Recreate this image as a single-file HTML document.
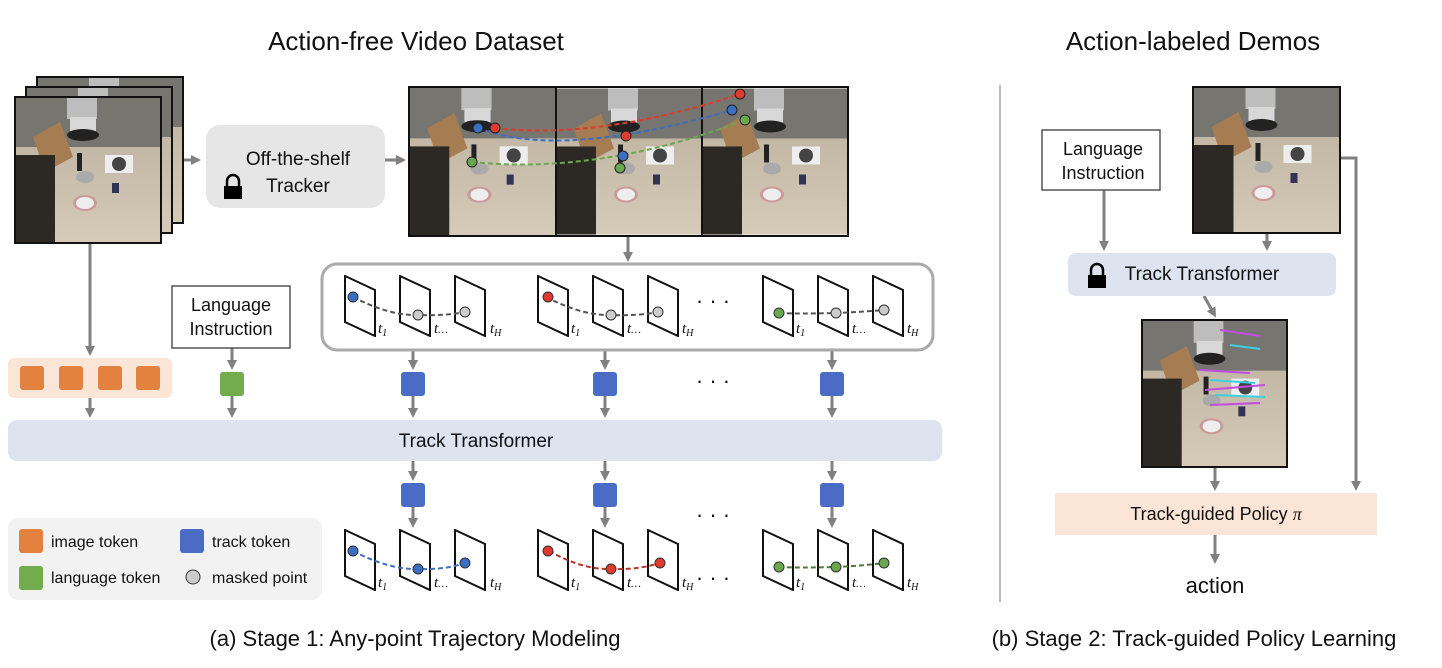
<!DOCTYPE html>
<html><head><meta charset="utf-8"><style>
body{margin:0;background:#fff}
svg{display:block}
text{font-family:"Liberation Sans",sans-serif;fill:#111}
.ti{font-family:"Liberation Serif",serif;font-style:italic;font-size:15px}
</style></head><body>
<svg width="1442" height="668" viewBox="0 0 1442 668" xmlns="http://www.w3.org/2000/svg">
<defs>
<linearGradient id="fl" x1="0" y1="0" x2="0" y2="1"><stop offset="0" stop-color="#b9ad9a"/><stop offset="1" stop-color="#d6cbb9"/></linearGradient>
<symbol id="scene" viewBox="0 0 146 146">
<rect width="146" height="146" fill="url(#fl)"/>
<rect width="146" height="50" fill="#77756f"/>
<path d="M18 40 L45 25 L58 60 L30 75Z" fill="#a67c52"/>
<rect x="0" y="58" width="40" height="88" fill="#2c2925"/>
<rect x="52" y="0" width="30" height="22" fill="#bdbdbd"/>
<rect x="55" y="20" width="26" height="14" fill="#d8d8d8"/>
<ellipse cx="68" cy="38" rx="16" ry="6" fill="#222"/>
<rect x="90" y="58" width="28" height="18" fill="#eee"/>
<circle cx="104" cy="67" r="7" fill="#444"/>
<ellipse cx="70" cy="80" rx="9" ry="6" fill="#aaa"/>
<rect x="62" y="56" width="5" height="18" fill="#222"/>
<ellipse cx="70" cy="106" rx="12" ry="8" fill="#c99" /><ellipse cx="70" cy="106" rx="9" ry="6" fill="#eee"/>
<rect x="97" y="86" width="7" height="10" fill="#335"/>
</symbol>
<symbol id="para" viewBox="0 0 32 62"><path d="M1 1 L31 15 L31 61 L1 47Z" fill="#fff" stroke="#111" stroke-width="2"/></symbol>
<marker id="ah" markerWidth="10" markerHeight="10" refX="6" refY="5" orient="auto" markerUnits="userSpaceOnUse"><path d="M0 0 L10 5 L0 10Z" fill="#808080"/></marker>
</defs>
<g stroke="#808080" stroke-width="3" fill="none" marker-end="url(#ah)">
<line x1="162" y1="160" x2="197" y2="160"/>
<line x1="385" y1="160" x2="402" y2="160"/>
<line x1="628" y1="236" x2="628" y2="258"/>
<line x1="90" y1="243" x2="90" y2="352"/>
<line x1="232" y1="348" x2="232" y2="366"/>
<line x1="413" y1="350" x2="413" y2="366"/>
<line x1="605" y1="350" x2="605" y2="366"/>
<line x1="832" y1="350" x2="832" y2="366"/>
<line x1="90" y1="398" x2="90" y2="414"/>
<line x1="232" y1="396" x2="232" y2="414"/>
<line x1="413" y1="396" x2="413" y2="414"/>
<line x1="605" y1="396" x2="605" y2="414"/>
<line x1="832" y1="396" x2="832" y2="414"/>
<line x1="413" y1="461" x2="413" y2="477"/>
<line x1="605" y1="461" x2="605" y2="477"/>
<line x1="832" y1="461" x2="832" y2="477"/>
<line x1="413" y1="507" x2="413" y2="524"/>
<line x1="605" y1="507" x2="605" y2="524"/>
<line x1="832" y1="507" x2="832" y2="524"/>
<line x1="1104" y1="190" x2="1104" y2="247"/>
<line x1="1267" y1="233" x2="1267" y2="247"/>
<line x1="1204" y1="296" x2="1214" y2="314"/>
<line x1="1215" y1="467" x2="1215" y2="487"/>
<polyline points="1340,158 1356,158 1356,487"/>
<line x1="1215" y1="535" x2="1215" y2="560"/>
</g>
<text x="416" y="50" font-size="26" text-anchor="middle">Action-free Video Dataset</text>
<text x="1193" y="50" font-size="26" text-anchor="middle">Action-labeled Demos</text>
<rect x="37" y="77" width="146" height="146" fill="#77756f" stroke="#111" stroke-width="2"/>
<use href="#scene" x="37" y="77" width="146" height="146"/>
<rect x="37" y="77" width="146" height="146" fill="none" stroke="#111" stroke-width="2"/>
<use href="#scene" x="26" y="87" width="146" height="146"/>
<rect x="26" y="87" width="146" height="146" fill="none" stroke="#111" stroke-width="2"/>
<use href="#scene" x="15" y="97" width="146" height="146"/>
<rect x="15" y="97" width="146" height="146" fill="none" stroke="#111" stroke-width="2"/>
<rect x="206" y="125" width="179" height="83" rx="14" fill="#e6e6e6"/>
<text x="298" y="165" font-size="19" text-anchor="middle">Off-the-shelf</text>
<text x="298" y="192" font-size="19" text-anchor="middle">Tracker</text>
<g><path d="M227 186 v-5 a6 6 0 0 1 12 0 v5" fill="none" stroke="#000" stroke-width="2.5"/><rect x="224" y="186" width="18" height="13" fill="#000"/></g>
<use href="#scene" x="409" y="87" width="147" height="149"/>
<use href="#scene" x="556" y="87" width="146" height="149"/>
<use href="#scene" x="702" y="87" width="146" height="149"/>
<rect x="409" y="87" width="439" height="149" fill="none" stroke="#111" stroke-width="2"/>
<line x1="556" y1="87" x2="556" y2="236" stroke="#111" stroke-width="2"/>
<line x1="702" y1="87" x2="702" y2="236" stroke="#111" stroke-width="2"/>
<g fill="none" stroke-width="2" stroke-dasharray="5,3">
<path d="M495 128 Q600 140 740 94" stroke="#e03a2e"/>
<path d="M478 128 Q560 160 732 110" stroke="#3a6fc4"/>
<path d="M472 162 Q600 175 745 120" stroke="#6aa84f"/>
</g>
<g stroke="#222" stroke-width="1">
<circle cx="495" cy="128" r="5" fill="#e03a2e"/><circle cx="626" cy="136" r="5" fill="#e03a2e"/><circle cx="740" cy="94" r="5" fill="#e03a2e"/>
<circle cx="478" cy="128" r="5" fill="#3a6fc4"/><circle cx="623" cy="156" r="5" fill="#3a6fc4"/><circle cx="732" cy="110" r="5" fill="#3a6fc4"/>
<circle cx="472" cy="162" r="5" fill="#6aa84f"/><circle cx="620" cy="168" r="5" fill="#6aa84f"/><circle cx="745" cy="120" r="5" fill="#6aa84f"/>
</g>
<rect x="322" y="264" width="611" height="86" rx="15" fill="#fff" stroke="#aaa" stroke-width="3"/>
<g>
<use href="#para" x="344" y="275" width="32" height="62"/><use href="#para" x="399" y="275" width="32" height="62"/><use href="#para" x="454" y="275" width="32" height="62"/>
<use href="#para" x="537" y="275" width="32" height="62"/><use href="#para" x="592" y="275" width="32" height="62"/><use href="#para" x="647" y="275" width="32" height="62"/>
<use href="#para" x="762" y="275" width="32" height="62"/><use href="#para" x="817" y="275" width="32" height="62"/><use href="#para" x="872" y="275" width="32" height="62"/>
<use href="#para" x="344" y="529" width="32" height="62"/><use href="#para" x="399" y="529" width="32" height="62"/><use href="#para" x="454" y="529" width="32" height="62"/>
<use href="#para" x="537" y="529" width="32" height="62"/><use href="#para" x="592" y="529" width="32" height="62"/><use href="#para" x="647" y="529" width="32" height="62"/>
<use href="#para" x="762" y="529" width="32" height="62"/><use href="#para" x="817" y="529" width="32" height="62"/><use href="#para" x="872" y="529" width="32" height="62"/>
</g>
<g fill="none" stroke-width="2" stroke-dasharray="5,3">
<path d="M353 297 Q390 316 418 315 Q445 316 465 312" stroke="#555"/>
<path d="M546 297 Q583 316 611 315 Q638 316 658 312" stroke="#555"/>
<path d="M779 313 Q800 314 836 313 Q860 312 884 310" stroke="#555"/>
<path d="M353 551 Q390 570 418 569 Q445 570 465 563" stroke="#3a6fc4"/>
<path d="M549 551 Q583 570 611 569 Q638 570 660 563" stroke="#c03020"/>
<path d="M779 567 Q800 568 836 567 Q860 566 884 563" stroke="#4e7a34"/>
</g>
<g stroke="#333" stroke-width="1">
<circle cx="353" cy="297" r="5" fill="#3a6fc4"/><circle cx="418" cy="315" r="5" fill="#ccc"/><circle cx="465" cy="312" r="5" fill="#ccc"/>
<circle cx="548" cy="297" r="5" fill="#e03a2e"/><circle cx="611" cy="315" r="5" fill="#ccc"/><circle cx="658" cy="312" r="5" fill="#ccc"/>
<circle cx="779" cy="313" r="5" fill="#6aa84f"/><circle cx="836" cy="313" r="5" fill="#ccc"/><circle cx="884" cy="310" r="5" fill="#ccc"/>
<circle cx="353" cy="551" r="5" fill="#3a6fc4"/><circle cx="418" cy="569" r="5" fill="#3a6fc4"/><circle cx="465" cy="563" r="5" fill="#3a6fc4"/>
<circle cx="548" cy="551" r="5" fill="#e03a2e"/><circle cx="611" cy="569" r="5" fill="#e03a2e"/><circle cx="660" cy="563" r="5" fill="#e03a2e"/>
<circle cx="779" cy="567" r="5" fill="#6aa84f"/><circle cx="836" cy="567" r="5" fill="#6aa84f"/><circle cx="884" cy="563" r="5" fill="#6aa84f"/>
</g>
<g>
<text class="ti" x="378" y="333">t<tspan font-size="10" dy="3">1</tspan></text><text class="ti" x="434" y="333">t<tspan font-size="11">…</tspan></text><text class="ti" x="490" y="333">t<tspan font-size="10" dy="3">H</tspan></text>
<text class="ti" x="571" y="333">t<tspan font-size="10" dy="3">1</tspan></text><text class="ti" x="627" y="333">t<tspan font-size="11">…</tspan></text><text class="ti" x="682" y="333">t<tspan font-size="10" dy="3">H</tspan></text>
<text class="ti" x="796" y="333">t<tspan font-size="10" dy="3">1</tspan></text><text class="ti" x="852" y="333">t<tspan font-size="11">…</tspan></text><text class="ti" x="907" y="333">t<tspan font-size="10" dy="3">H</tspan></text>
<text class="ti" x="378" y="587">t<tspan font-size="10" dy="3">1</tspan></text><text class="ti" x="434" y="587">t<tspan font-size="11">…</tspan></text><text class="ti" x="490" y="587">t<tspan font-size="10" dy="3">H</tspan></text>
<text class="ti" x="571" y="587">t<tspan font-size="10" dy="3">1</tspan></text><text class="ti" x="627" y="587">t<tspan font-size="11">…</tspan></text><text class="ti" x="682" y="587">t<tspan font-size="10" dy="3">H</tspan></text>
<text class="ti" x="796" y="587">t<tspan font-size="10" dy="3">1</tspan></text><text class="ti" x="852" y="587">t<tspan font-size="11">…</tspan></text><text class="ti" x="907" y="587">t<tspan font-size="10" dy="3">H</tspan></text>
</g>
<g font-size="22" text-anchor="middle">
<text x="713" y="308">· · ·</text><text x="713" y="388">· · ·</text><text x="713" y="522">· · ·</text><text x="713" y="585">· · ·</text>
</g>
<rect x="8" y="358" width="164" height="40" rx="6" fill="#fbe5d6"/>
<g fill="#e3823e"><rect x="20" y="366" width="24" height="24" rx="3"/><rect x="59" y="366" width="24" height="24" rx="3"/><rect x="98" y="366" width="24" height="24" rx="3"/><rect x="136" y="366" width="24" height="24" rx="3"/></g>
<rect x="172" y="286" width="118" height="62" fill="#fff" stroke="#555" stroke-width="1.5"/>
<text x="231" y="311" font-size="18" text-anchor="middle">Language</text>
<text x="231" y="335" font-size="18" text-anchor="middle">Instruction</text>
<rect x="220" y="372" width="24" height="24" rx="3" fill="#72ac4d"/>
<g fill="#4a6cc4"><rect x="401" y="372" width="24" height="24" rx="3"/><rect x="593" y="372" width="24" height="24" rx="3"/><rect x="820" y="372" width="24" height="24" rx="3"/>
<rect x="401" y="483" width="24" height="24" rx="3"/><rect x="593" y="483" width="24" height="24" rx="3"/><rect x="820" y="483" width="24" height="24" rx="3"/></g>
<rect x="8" y="420" width="934" height="41" rx="9" fill="#dde3ef"/>
<text x="476" y="447" font-size="19" text-anchor="middle">Track Transformer</text>
<rect x="8" y="518" width="314" height="82" rx="10" fill="#f2f2f2"/>
<rect x="19" y="529" width="24" height="24" rx="3" fill="#e3823e"/><text x="51" y="547" font-size="16">image token</text>
<rect x="180" y="529" width="24" height="24" rx="3" fill="#4a6cc4"/><text x="212" y="547" font-size="16">track token</text>
<rect x="19" y="566" width="24" height="24" rx="3" fill="#72ac4d"/><text x="51" y="583" font-size="16">language token</text>
<circle cx="193" cy="577" r="7" fill="#ccc" stroke="#333"/><text x="212" y="583" font-size="16">masked point</text>
<text x="415" y="646" font-size="22" text-anchor="middle">(a) Stage 1: Any-point Trajectory Modeling</text>
<line x1="1000" y1="85" x2="1000" y2="602" stroke="#bbb" stroke-width="2"/>
<use href="#scene" x="1193" y="87" width="147" height="146"/>
<rect x="1193" y="87" width="147" height="146" fill="none" stroke="#111" stroke-width="2"/>
<rect x="1042" y="130" width="118" height="60" fill="#fff" stroke="#555" stroke-width="1.5"/>
<text x="1103" y="155" font-size="18" text-anchor="middle">Language</text>
<text x="1103" y="179" font-size="18" text-anchor="middle">Instruction</text>
<rect x="1068" y="253" width="268" height="43" rx="8" fill="#dde3ef"/>
<g><path d="M1091 275 v-5 a6 6 0 0 1 12 0 v5" fill="none" stroke="#000" stroke-width="2.5"/><rect x="1088" y="275" width="18" height="13" fill="#000"/></g>
<text x="1202" y="280" font-size="19" text-anchor="middle">Track Transformer</text>
<use href="#scene" x="1142" y="320" width="145" height="147"/>
<g stroke-width="2"><path d="M1200 370 l50 3 M1205 390 l60 -5 M1210 405 l50 -2 M1220 330 l40 6" stroke="#c04ce0"/><path d="M1210 380 l45 3 M1215 395 l50 2 M1230 345 l30 4" stroke="#3ad0e0"/></g>
<rect x="1142" y="320" width="145" height="147" fill="none" stroke="#111" stroke-width="2"/>
<rect x="1055" y="493" width="322" height="42" fill="#fbe5d6"/>
<text x="1216" y="520" font-size="18" text-anchor="middle">Track-guided Policy <tspan font-family="Liberation Serif" font-style="italic">π</tspan></text>
<text x="1215" y="593" font-size="22" text-anchor="middle">action</text>
<text x="1194" y="646" font-size="22" text-anchor="middle">(b) Stage 2: Track-guided Policy Learning</text>
</svg>
</body></html>
